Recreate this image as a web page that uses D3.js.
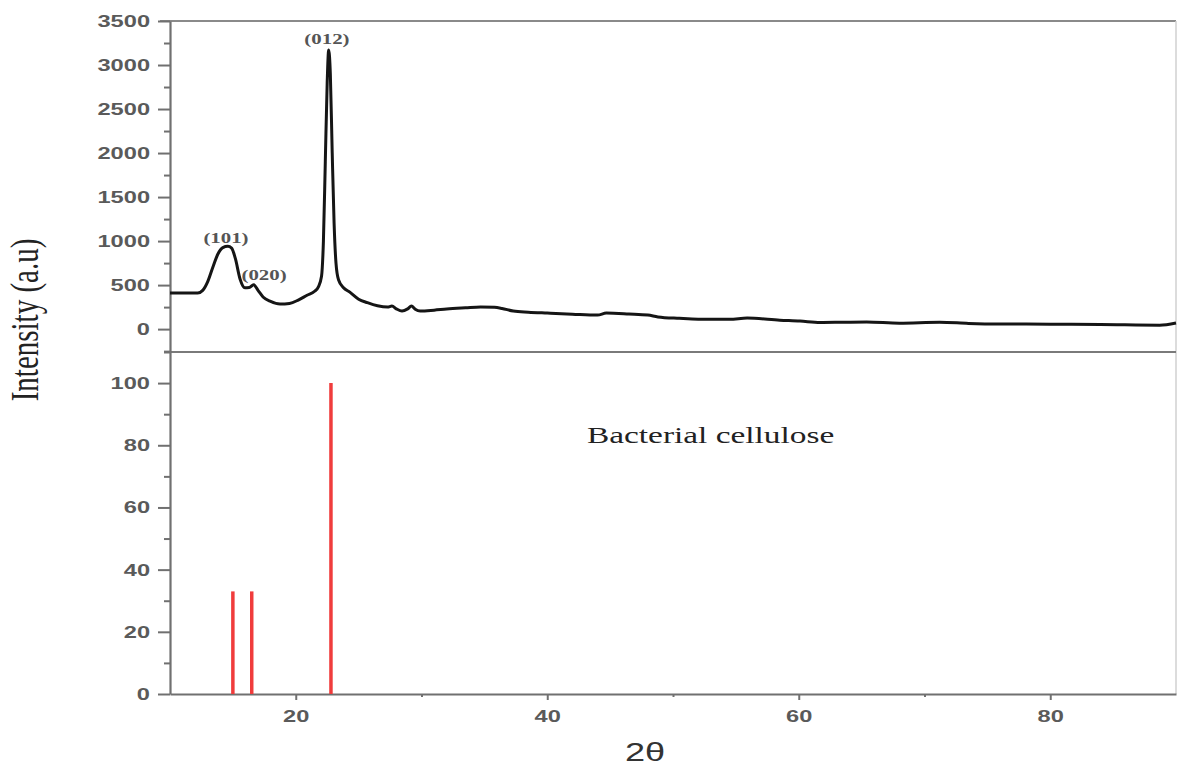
<!DOCTYPE html>
<html lang="en">
<head>
    <meta charset="UTF-8">
    <title>XRD - bacterial cellulose</title>
    <script src="https://cdn.jsdelivr.net/npm/d3@7/dist/d3.min.js"></script>
    <style>
        body { margin: 0; background: #fff; }
    </style>
</head>
<body>
<div id="output"></div>

<script>

// measured pattern (2theta in degrees, counts)
var twoTheta = [10, 12.2, 12.6, 13.0, 13.4, 13.8, 14.2, 14.6, 14.9, 15.2, 15.57, 15.95, 16.3, 16.65, 17.0, 17.4, 18.0, 18.75, 19.5, 20.2,
    20.9, 21.5, 21.8, 22.05, 22.2, 22.35, 22.5, 22.62, 22.75, 22.9, 23.05, 23.2, 23.4, 23.8, 24.3, 25.0, 25.7, 26.5, 27.3, 27.65,
    28.0, 28.45, 28.9, 29.2, 29.5, 29.9, 31.0, 32.0, 33.5, 34.7, 35.8, 36.4, 37.3, 38.5, 40.0, 42.0, 44.0, 44.7, 46.5, 48.0,
    48.8, 50.5, 52.0, 54.5, 55.9, 58.5, 60.1, 61.7, 63.5, 65.4, 68.0, 71.2, 73.5, 76.0, 80.0, 84.0, 88.7, 90];
var counts = [410, 410, 440, 540, 700, 850, 925, 940, 920, 800, 570, 470, 472, 505, 440, 365, 315, 285, 292, 330,
    385, 430, 480, 600, 1000, 1900, 2800, 3170, 2900, 2000, 1200, 750, 560, 470, 420, 340, 300, 265, 250, 262,
    230, 205, 230, 262, 225, 205, 215, 228, 242, 252, 248, 235, 205, 192, 182, 170, 160, 182, 172, 160,
    138, 122, 113, 113, 125, 102, 91, 75, 78, 81, 68, 78, 65, 58, 56, 53, 45, 70];

// reference card lines
var stickTheta = [15.0, 16.5, 22.8];
var stickIntensity = [33, 33, 100];

// peak labels (placed in data units)
var peakNames = ["(101)", "(020)", "(012)"];
var peakNameTheta = [14.45, 17.48, 22.48];
var peakNameCounts = [978, 558, 3239];

var topTicks = [0, 500, 1000, 1500, 2000, 2500, 3000, 3500];
var bottomTicks = [0, 20, 40, 60, 80, 100];
var xTicks = [20, 40, 60, 80];

var w = 1177;
var h = 769;
var stretch = 1.39; // the picture is stretched sideways, text too

var svg = d3.select("#output")
    .append("svg")
    .attr("width", w)
    .attr("height", h)
    .style("background-color", "#ffffff");

var x = d3.scaleLinear().domain([10, 90]).range([170, 1176]);
var yTop = d3.scaleLinear().domain([-260, 3500]).range([352, 21]);
var yBot = d3.scaleLinear().domain([0, 110]).range([694, 352]);

var axisColor = "#707070";
var labelColor = "#5a5a5a";
var fmt = d3.format("d");

// frame
svg.append("line")
    .attr("x1", 160).attr("x2", 1176)
    .attr("y1", yTop(3500)).attr("y2", yTop(3500))
    .attr("stroke", "#8a8a8a").attr("stroke-width", 2);
svg.append("line")
    .attr("x1", 1176).attr("x2", 1176)
    .attr("y1", 21).attr("y2", 694)
    .attr("stroke", "#d0d0d0").attr("stroke-width", 1.5);
svg.append("line")
    .attr("x1", 164).attr("x2", 1176)
    .attr("y1", 352).attr("y2", 352)
    .attr("stroke", "#7a7a7a").attr("stroke-width", 2);

function styleAxis(g) {
    g.select(".domain").attr("stroke", axisColor).attr("stroke-width", 2.2);
    g.selectAll(".tick line").attr("stroke", axisColor).attr("stroke-width", 2);
    g.selectAll(".tick text")
        .attr("fill", labelColor)
        .style("font-family", "'Liberation Sans', Arial, sans-serif")
        .style("font-size", "17px")
        .style("font-weight", "bold");
}

// minor ticks first
svg.append("g")
    .attr("transform", "translate(170,0)")
    .call(d3.axisLeft(yTop).tickValues(d3.range(-250, 3500, 500)).tickSize(6).tickFormat(""))
    .call(styleAxis)
    .select(".domain").remove();
svg.append("g")
    .attr("transform", "translate(170,0)")
    .call(d3.axisLeft(yBot).tickValues(d3.range(10, 111, 20)).tickSize(6).tickFormat(""))
    .call(styleAxis)
    .select(".domain").remove();
svg.append("g")
    .attr("transform", "translate(0,694)")
    .call(d3.axisBottom(x).tickValues([30, 50, 70]).tickSize(3).tickFormat(""))
    .call(styleAxis)
    .select(".domain").remove();

// major axes
var gTop = svg.append("g")
    .attr("transform", "translate(170,0)")
    .call(d3.axisLeft(yTop).tickValues(topTicks).tickFormat(fmt).tickSize(12).tickSizeOuter(0).tickPadding(8))
    .call(styleAxis);
gTop.selectAll(".tick text")
    .attr("x", -20 / stretch)
    .attr("transform", "scale(" + stretch + ",1)");

var gBot = svg.append("g")
    .attr("transform", "translate(170,0)")
    .call(d3.axisLeft(yBot).tickValues(bottomTicks).tickFormat(fmt).tickSize(12).tickSizeOuter(0).tickPadding(8))
    .call(styleAxis);
gBot.selectAll(".tick text")
    .attr("x", -20 / stretch)
    .attr("transform", "scale(" + stretch + ",1)");

var gX = svg.append("g")
    .attr("transform", "translate(0,694)")
    .call(d3.axisBottom(x).tickValues(xTicks).tickFormat(fmt).tickSize(6).tickSizeOuter(0).tickPadding(10))
    .call(styleAxis);
gX.selectAll(".tick text")
    .attr("transform", "scale(" + stretch + ",1)");

// diffraction curve
var pattern = twoTheta.map(function(t, i) { return [t, counts[i]]; });

var line = d3.line()
    .x(function(d) { return x(d[0]); })
    .y(function(d) { return yTop(d[1]); })
    .curve(d3.curveMonotoneX);

svg.append("path")
    .datum(pattern)
    .attr("d", line)
    .attr("fill", "none")
    .attr("stroke", "#151515")
    .attr("stroke-width", 3)
    .attr("stroke-linejoin", "round");

// reference sticks
svg.selectAll("line.stick")
    .data(stickTheta)
    .enter()
    .append("line")
    .attr("class", "stick")
    .attr("x1", function(d) { return x(d); })
    .attr("x2", function(d) { return x(d); })
    .attr("y1", yBot(0))
    .attr("y2", function(d, i) { return yBot(stickIntensity[i]); })
    .attr("stroke", "#f03c3c")
    .attr("stroke-width", 3.5);

// peak names
svg.selectAll("g.peak")
    .data(peakNames)
    .enter()
    .append("g")
    .attr("class", "peak")
    .attr("transform", function(d, i) {
        return "translate(" + x(peakNameTheta[i]) + "," + yTop(peakNameCounts[i]) + ") scale(" + stretch + ",1)";
    })
    .append("text")
    .attr("text-anchor", "middle")
    .attr("fill", "#555")
    .style("font-family", "'Liberation Serif', 'Times New Roman', serif")
    .style("font-size", "15px")
    .style("font-weight", "bold")
    .text(function(d) { return d; });

// sample name
svg.append("g")
    .attr("transform", "translate(" + x(43.16) + "," + yBot(80.7) + ") scale(" + stretch + ",1)")
    .append("text")
    .attr("fill", "#222")
    .style("font-family", "'Liberation Serif', 'Times New Roman', serif")
    .style("font-size", "24px")
    .text("Bacterial cellulose");

// axis titles
svg.append("g")
    .attr("transform", "translate(645,761) scale(" + stretch + ",1)")
    .append("text")
    .attr("text-anchor", "middle")
    .attr("fill", "#333")
    .style("font-family", "'Liberation Sans', Arial, sans-serif")
    .style("font-size", "26px")
    .text("2θ");

svg.append("g")
    .attr("transform", "translate(38,320) scale(" + stretch + ",1) rotate(-90)")
    .append("text")
    .attr("text-anchor", "middle")
    .attr("fill", "#222")
    .style("font-family", "'Liberation Serif', 'Times New Roman', serif")
    .style("font-size", "29px")
    .text("Intensity (a.u)");

</script>
</body>
</html>
